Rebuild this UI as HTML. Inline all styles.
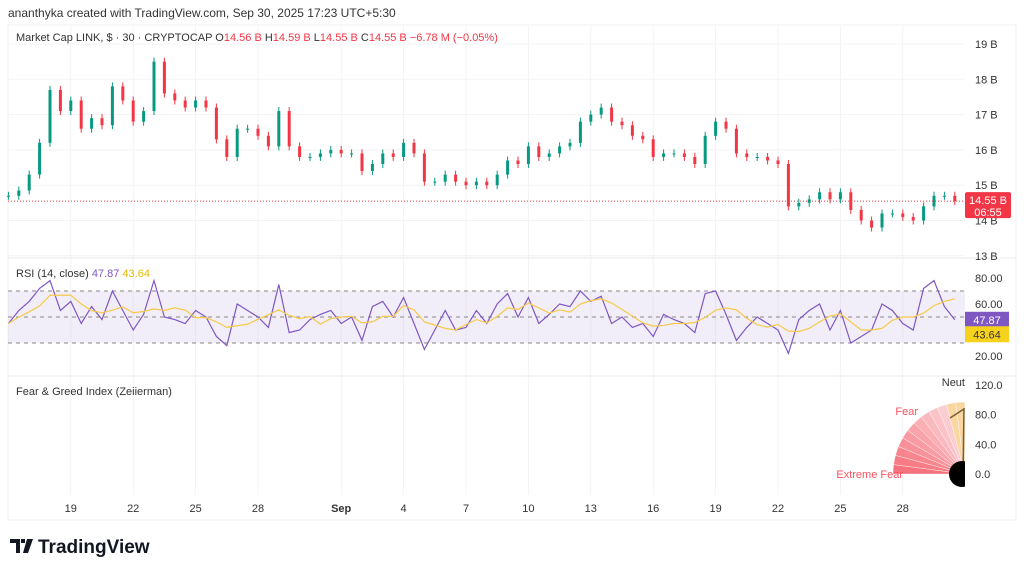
<!DOCTYPE html>
<html><head><meta charset="utf-8"><style>
body{margin:0;background:#fff;font-family:"Liberation Sans",sans-serif;}
svg text{font-family:"Liberation Sans",sans-serif;}
</style></head><body>
<svg id="c" width="1024" height="572" viewBox="0 0 1024 572">
<defs><clipPath id="pane"><rect x="8" y="25" width="957" height="495"/></clipPath></defs>
<text x="8" y="17" font-size="12" fill="#333">ananthyka created with TradingView.com, Sep 30, 2025 17:23 UTC+5:30</text>
<rect x="8" y="25" width="1008" height="495" fill="none" stroke="#eef0f3"/>
<g id="grid"></g>
<line x1="8" y1="258" x2="1016" y2="258" stroke="#e8eaed"/>
<line x1="8" y1="376" x2="1016" y2="376" stroke="#e8eaed"/>
<g id="main"></g><g id="rsi"></g><g id="fg" clip-path="url(#pane)"></g><g id="axes"></g>
<text x="16" y="41" font-size="11" fill="#333">Market Cap LINK, $ · 30 · CRYPTOCAP <tspan fill="#333">O</tspan><tspan fill="#f23645">14.56 B </tspan><tspan fill="#333">H</tspan><tspan fill="#f23645">14.59 B </tspan><tspan fill="#333">L</tspan><tspan fill="#f23645">14.55 B </tspan><tspan fill="#333">C</tspan><tspan fill="#f23645">14.55 B  −6.78 M (−0.05%)</tspan></text>
<text x="16" y="277" font-size="11" fill="#333">RSI (14, close) <tspan fill="#7e57c2">47.87</tspan> <tspan fill="#e6b800">43.64</tspan></text>
<text x="16" y="395" font-size="11" fill="#333">Fear &amp; Greed Index (Zeiierman)</text>
<g>
<path d="M10 539h10v14h-4v-10h-6z M21 539h4v4h-4z M27 539h6l-5 14h-5z" fill="#131722"/>
<text x="38" y="553" font-size="19" font-weight="bold" fill="#131722">TradingView</text></g>
</svg>
<script>
const price=[14.7,14.85,15.3,16.2,17.7,17.1,17.4,16.6,16.9,16.7,17.8,17.4,16.8,17.1,18.5,17.6,17.4,17.2,17.4,17.2,16.3,15.8,16.6,16.6,16.4,16.1,17.1,16.1,15.8,15.8,15.9,16.0,15.9,15.9,15.4,15.6,15.9,15.8,16.2,15.9,15.1,15.1,15.3,15.1,15.0,15.1,15.0,15.3,15.7,15.6,16.1,15.8,15.9,16.1,16.2,16.8,17.0,17.2,16.8,16.7,16.4,16.3,15.8,15.9,15.9,15.8,15.6,16.4,16.8,16.6,15.9,15.8,15.8,15.7,15.6,14.4,14.5,14.6,14.8,14.6,14.8,14.3,14.0,13.8,14.2,14.2,14.1,14.0,14.4,14.7,14.7,14.55];
const rsi=[45,55,62,72,78,55,62,45,58,48,70,55,40,52,78,50,48,45,55,50,35,28,60,55,50,42,75,38,40,48,52,55,45,50,32,58,62,50,65,45,25,40,55,40,42,55,45,60,68,50,65,45,52,60,58,70,62,66,45,50,42,45,35,52,48,45,38,68,70,52,32,42,50,45,40,22,48,55,60,40,55,30,35,40,60,55,45,40,72,78,58,47.87];
const priceTicks=[13,14,15,16,17,18,19];
const rsiTicks=[20,40,60,80];
const fgTicks=[0,40,80,120];
const dayLabels=["19","22","25","28","Sep","4","7","10","13","16","19","22","25","28"];
const dayIdx=[3,6,9,12,16,19,22,25,28,31,34,37,40,43];
const NS="http://www.w3.org/2000/svg";
function el(t,a,p){const e=document.createElementNS(NS,t);for(const k in a)e.setAttribute(k,a[k]);document.getElementById(p).appendChild(e);return e;}
const X0=8.4,DX=20.8;
const xDay=d=>X0+d*DX;
const xi=i=>xDay(i*0.5);
const yP=v=>44+(19-v)*35.3;
const yR=v=>330-(v-40)*1.3;
const yF=v=>474-v*0.742;
priceTicks.forEach(v=>{const t=el('text',{x:975,y:yP(v)+4,'font-size':11,fill:'#333'},'axes');t.textContent=v+' B';

el('line',{x1:8,x2:965,y1:yP(v),y2:yP(v),stroke:'#f2f3f5'},'grid');});
rsiTicks.forEach(v=>{const t=el('text',{x:975,y:yR(v)+4,'font-size':11,fill:'#333'},'axes');t.textContent=v.toFixed(2);
});
fgTicks.forEach(v=>{const t=el('text',{x:975,y:yF(v)+4,'font-size':11,fill:'#333'},'axes');t.textContent=v.toFixed(1);
});
dayLabels.forEach((s,i)=>{const x=xDay(dayIdx[i]);el('line',{x1:x,x2:x,y1:25,y2:495,stroke:'#f2f3f5'},'grid');
const t=el('text',{x:x,y:512,'font-size':11,fill:'#333','text-anchor':'middle','font-weight':s=='Sep'?'bold':'normal'},'axes');t.textContent=s;
});
price.forEach((c,i)=>{const o=i?price[i-1]:c;const up=c>=o;const col=up?'#089981':'#f23645';const x=xi(i);
const w=el('line',{x1:x,x2:x,y1:yP(Math.max(o,c))-4,y2:yP(Math.min(o,c))+4,stroke:col,'stroke-width':1},'main');

const r=el('rect',{x:x-1.5,y:yP(Math.max(o,c)),width:3,height:Math.max(1,Math.abs(yP(o)-yP(c))),fill:col},'main');
});
const last=price[price.length-1];
el('line',{x1:8,x2:965,y1:yP(last),y2:yP(last),stroke:'#f23645','stroke-dasharray':'1 2'},'main');
const pb=el('rect',{x:965,y:yP(last)-9,width:46,height:26,fill:'#f23645',rx:2},'axes');

let t=el('text',{x:988,y:yP(last)+3,'font-size':11,fill:'#fff','text-anchor':'middle'},'axes');t.textContent='14.55 B';
t=el('text',{x:988,y:yP(last)+15,'font-size':11,fill:'#fff','text-anchor':'middle'},'axes');t.textContent='06:55';
const bg=el('rect',{x:8,y:yR(70),width:957,height:yR(30)-yR(70),fill:'#7e57c2','fill-opacity':0.1},'rsi');

[70,50,30].forEach(v=>el('line',{x1:8,x2:965,y1:yR(v),y2:yR(v),stroke:'#888','stroke-dasharray':'4 4'},'rsi'));
const ma=rsi.map((v,i)=>{const s=rsi.slice(Math.max(0,i-3),i+1);return s.reduce((a,b)=>a+b,0)/s.length;});
const pl=el('polyline',{points:rsi.map((v,i)=>xi(i)+','+yR(v)).join(' '),fill:'none',stroke:'#7e57c2','stroke-width':1.2},'rsi');

const pm=el('polyline',{points:ma.map((v,i)=>xi(i)+','+yR(v)).join(' '),fill:'none',stroke:'#f7c948','stroke-width':1.2},'rsi');

const rb=el('rect',{x:965,y:yR(47.87)-8,width:44,height:16,fill:'#7e57c2'},'axes');
t=el('text',{x:987,y:yR(47.87)+4,'font-size':11,fill:'#fff','text-anchor':'middle'},'axes');t.textContent='47.87';
const mb=el('rect',{x:965,y:yR(43.64)+1,width:44,height:16,fill:'#f7d21c'},'axes');
t=el('text',{x:987,y:yR(43.64)+13,'font-size':11,fill:'#333','text-anchor':'middle'},'axes');t.textContent='43.64';
const cx=965,cy=474,R=72,N=12;
for(let i=0;i<N;i++){const a0=Math.PI*(1+i*0.5/N),a1=Math.PI*(1+(i+1)*0.5/N);
const col=i<10?`rgba(242,54,69,${0.7-i*0.05})`:'#fad7a0';
const s=el('path',{d:`M${cx},${cy}L${cx+R*Math.cos(a0)},${cy+R*Math.sin(a0)}A${R},${R} 0 0 1 ${cx+R*Math.cos(a1)},${cy+R*Math.sin(a1)}Z`,fill:col,stroke:'#fff','stroke-width':0.4},'fg');
}
el('line',{x1:963,y1:cy,x2:964,y2:408,stroke:'#7a5c3a','stroke-width':1.5},'fg');
el('line',{x1:950,y1:418,x2:964,y2:409,stroke:'#7a5c3a','stroke-width':1.5},'fg');
const hub=el('circle',{cx:cx-3,cy:cy,r:13,fill:'#000'},'fg');
t=el('text',{x:918,y:415,'font-size':11,fill:'#f7525f','text-anchor':'end'},'axes');t.textContent='Fear';
t=el('text',{x:903,y:478,'font-size':11,fill:'#f7525f','text-anchor':'end'},'axes');t.textContent='Extreme Fear';
t=el('text',{x:965,y:386,'font-size':11,fill:'#333','text-anchor':'end'},'axes');t.textContent='Neut';
</script>
</body></html>
